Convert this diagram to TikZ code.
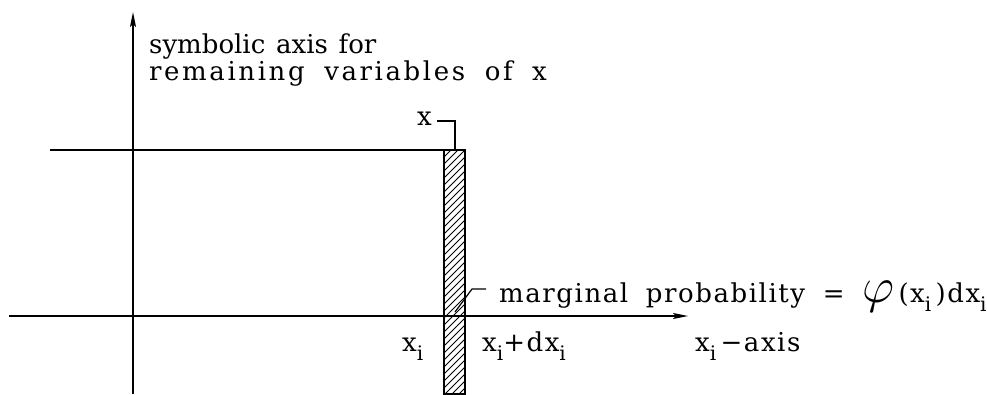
\documentclass[tikz,border=0pt]{standalone}
\usepackage{fontspec}
\setmainfont{DejaVu Serif}[LetterSpace=6, WordSpace=1.8]
\newfontfamily\plainserif{DejaVu Serif}[WordSpace=1.3]
\newfontfamily\wideserif{DejaVu Serif}[LetterSpace=10, WordSpace=1.8]
\usetikzlibrary{arrows.meta}
\newcommand{\sbi}{\raisebox{-9pt}{\fontsize{20}{20}\selectfont i}}
\tikzset{
  lbl/.style={anchor=base west, inner sep=0pt, font=\fontsize{26}{26}\selectfont},
  axis/.style={line width=1.3pt, -{Stealth[length=15pt,width=6pt,inset=3pt]}},
  thin line/.style={line width=1.2pt},
  hatch/.style={line width=0.8pt}
}
\begin{document}
\begin{tikzpicture}[x=1pt,y=-1pt]
\useasboundingbox (0,0) rectangle (987,394);
% coordinates
\coordinate (vb) at (133,394);
\coordinate (vt) at (133,12);
\coordinate (hl) at (9,316);
\coordinate (hr) at (688,316);
\coordinate (tl) at (50,150);
\coordinate (tr) at (465,150);
\coordinate (sbl) at (444,394);
\coordinate (str) at (465,150);
\coordinate (bk1) at (437,121);
\coordinate (bk2) at (455,121);
\coordinate (bk3) at (455,150);
\coordinate (ld1) at (455,312);
\coordinate (ld2) at (472,289);
\coordinate (ld3) at (486,289);
% hatched strip
\begin{scope}
\clip (sbl) rectangle (str);
\foreach \y in {150,157,...,430} {
  \draw[hatch] (444,\y) -- (465,\y-21);
}
\end{scope}
\draw[thin line] (sbl) rectangle (str);
% axes
\draw[axis] (vb) -- (vt);
\draw[axis] (hl) -- (hr);
\draw[thin line] (tl) -- (tr);
% bracket to x
\draw[thin line] (bk1) -- (bk2) -- (bk3);
% leader
\draw[thin line] (ld1) -- (ld2) -- (ld3);
% labels
\node[lbl] (l1) at (149,53) {\plainserif symbolic axis for};
\node[lbl] (l2) at (149,80) {\wideserif remaining variables of x};
\node[lbl] (xl) at (417,125) {x};
\node[lbl] (mg) at (499,302) {marginal probability = \scalebox{2}{$\varphi$}\,(x\sbi\,)dx\sbi};
\node[lbl] (xi) at (402,351) {x\sbi};
\node[lbl] (xd) at (482,351) {x\sbi+dx\sbi};
\node[lbl] (xa) at (695,351) {x\sbi\,−axis};
\end{tikzpicture}
\end{document}
